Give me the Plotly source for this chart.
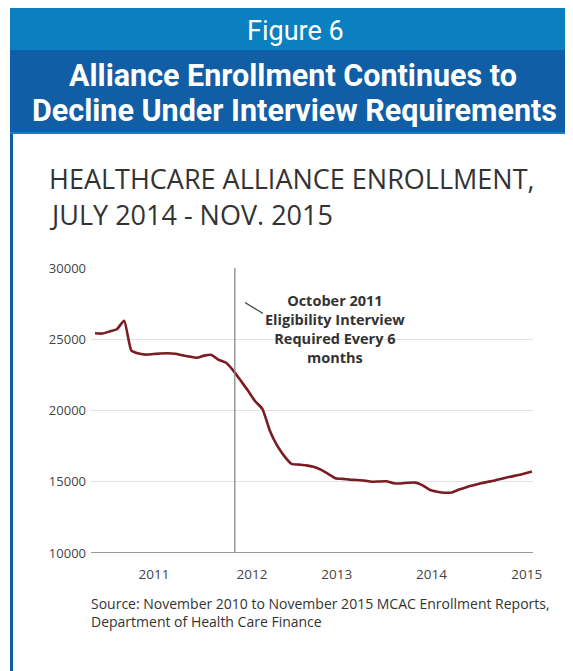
import plotly.graph_objects as go

# ---- data (monthly, Nov 2010 - Nov 2015) ----
month_index = list(range(61))
enrollment = [
    25420, 25400, 25550, 25700, 26300, 24200, 24000, 23920, 23960, 24000,
    24020, 23980, 23880, 23780, 23700, 23850, 23900, 23550, 23350, 22800,
    22100, 21400, 20650, 20100, 18600, 17550, 16800, 16250, 16200, 16150,
    16050, 15850, 15550, 15250, 15200, 15150, 15120, 15080, 15000, 15020,
    15030, 14900, 14880, 14930, 14940, 14750, 14420, 14300, 14230, 14250,
    14450, 14620, 14760, 14900, 15000, 15100, 15230, 15350, 15450, 15580,
    15720,
]
x_tick_vals = [8.1, 21.56, 33.2, 46.2, 59.3]
x_tick_text = ["2011", "2012", "2013", "2014", "2015"]
y_tick_vals = [10000, 15000, 20000, 25000, 30000]
y_tick_text = ["10000", "15000", "20000", "25000", "30000"]
interview_month = 19.2

OFF = 8  # page body margin
W, H = 573 - OFF, 671 - OFF
PLOT_L, PLOT_R, PLOT_T, PLOT_B = 91, 533, 268, 553  # in page pixels
L, R, T, B = PLOT_L - OFF, 573 - PLOT_R, PLOT_T - OFF, 671 - PLOT_B
PW, PH = PLOT_R - PLOT_L, PLOT_B - PLOT_T


def px(x):
    return (x - PLOT_L) / PW


def py(y):
    return (PLOT_B - y) / PH


fig = go.Figure()
fig.add_trace(go.Scatter(
    x=month_index, y=enrollment, mode="lines",
    line=dict(color="#7a1c22", width=2.6, shape="spline", smoothing=0.5),
    hoverinfo="skip", showlegend=False,
))

shapes = [
    dict(type="rect", xref="paper", yref="paper", x0=px(10), x1=px(575), y0=py(8), y1=py(50),
         fillcolor="#0a80c0", line_width=0, layer="below"),
    dict(type="rect", xref="paper", yref="paper", x0=px(10), x1=px(575), y0=py(50), y1=py(132),
         fillcolor="#105ea6", line_width=0, layer="below"),
    dict(type="rect", xref="paper", yref="paper", x0=px(10), x1=px(575), y0=py(132), y1=py(134),
         fillcolor="#1a7cc4", line_width=0, layer="below"),
    dict(type="rect", xref="paper", yref="paper", x0=px(10), x1=px(13), y0=py(134), y1=py(673),
         fillcolor="#105ea6", line_width=0, layer="below"),
    dict(type="line", xref="x", yref="paper", x0=interview_month, x1=interview_month, y0=0, y1=1,
         line=dict(color="#8a8a8a", width=1.3)),
    dict(type="line", xref="paper", yref="paper", x0=px(245), x1=px(263), y0=py(302.5), y1=py(313.5),
         line=dict(color="#444444", width=1.3)),
]

annotations = [
    dict(text="Figure 6", x=px(295), y=py(31), xref="paper", yref="paper", showarrow=False,
         xanchor="center", yanchor="middle", font=dict(family="Roboto", size=27, color="white")),
    dict(text="<b>Alliance Enrollment Continues to</b>", x=px(293), y=py(76), xref="paper", yref="paper",
         showarrow=False, xanchor="center", yanchor="middle",
         font=dict(family="Roboto", size=30.5, color="white")),
    dict(text="<b>Decline Under Interview Requirements</b>", x=px(294), y=py(110), xref="paper",
         yref="paper", showarrow=False, xanchor="center", yanchor="middle",
         font=dict(family="Roboto", size=30.5, color="white")),
    dict(text="HEALTHCARE ALLIANCE ENROLLMENT,", x=px(47), y=py(179), xref="paper", yref="paper",
         showarrow=False, xanchor="left", yanchor="middle",
         font=dict(family="Open Sans", size=27, color="#333333")),
    dict(text="JULY 2014 - NOV. 2015", x=px(47), y=py(214), xref="paper", yref="paper",
         showarrow=False, xanchor="left", yanchor="middle",
         font=dict(family="Open Sans", size=27, color="#333333")),
    dict(text="<b>October 2011<br>Eligibility Interview<br>Required Every 6<br>months</b>",
         x=px(335), y=py(329), xref="paper", yref="paper", showarrow=False,
         xanchor="center", yanchor="middle", align="center",
         font=dict(family="Open Sans", size=14.5, color="#333333")),
    dict(text="Source: November 2010 to November 2015 MCAC Enrollment Reports,<br>Department of Health Care Finance",
         x=px(89), y=py(612), xref="paper", yref="paper", showarrow=False,
         xanchor="left", yanchor="middle", align="left",
         font=dict(family="Open Sans", size=14, color="#333333")),
]

fig.update_layout(
    width=W, height=H,
    margin=dict(l=L, r=R, t=T, b=B, pad=0),
    paper_bgcolor="white", plot_bgcolor="white",
    shapes=shapes, annotations=annotations,
    xaxis=dict(range=[-0.55, 60.15], tickvals=x_tick_vals, ticktext=x_tick_text,
               showgrid=False, zeroline=False, showline=False, ticks="",
               ticklabelstandoff=11,
               tickfont=dict(family="Open Sans", size=13.5, color="#444444"), fixedrange=True),
    yaxis=dict(range=[10000, 30000], tickvals=y_tick_vals, ticktext=y_tick_text,
               showgrid=True, gridcolor="#e2e2e2", gridwidth=1, zeroline=False,
               showline=False, ticks="", ticklabelstandoff=4,
               tickfont=dict(family="Open Sans", size=13, color="#444444"), fixedrange=True),
    font=dict(family="Open Sans"),
)
fig.add_shape(type="line", xref="paper", yref="y", x0=0, x1=1, y0=10000, y1=10000,
              line=dict(color="#9a9a9a", width=2))

fig.write_html("out.html")
